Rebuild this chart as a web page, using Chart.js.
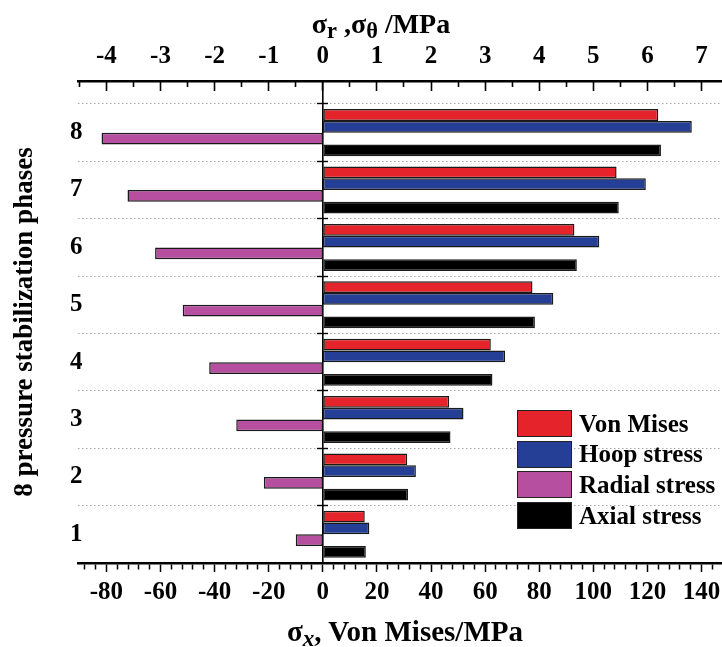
<!DOCTYPE html>
<html>
<head>
<meta charset="utf-8">
<title>8 pressure stabilization phases</title>
<script src="https://cdn.jsdelivr.net/npm/chart.js@4.4.1/dist/chart.umd.min.js"></script>
<style>
    html, body { margin: 0; padding: 0; background: #fff; overflow: hidden; }
    #wrap { position: relative; width: 722px; height: 647px; overflow: hidden; }
    #chart { position: absolute; left: 0; top: 0; }
    .axis-title {
        position: absolute;
        font-family: "Liberation Serif", "Times New Roman", serif;
        font-weight: bold;
        line-height: 1;
        white-space: nowrap;
        color: #000;
        transform: translateX(-50%);
    }
    .axis-title .sub { font-size: 0.8em; vertical-align: -0.22em; line-height: 0; }
    #legend { position: absolute; left: 517px; top: 410px; }
    .legend-row { position: absolute; left: 0; display: flex; align-items: center; height: 27px; }
    .legend-box { width: 55px; height: 27px; box-sizing: border-box; border: 1.5px solid #222; }
    .legend-text {
        margin-left: 7px;
        font-family: "Liberation Serif", "Times New Roman", serif;
        font-weight: bold;
        font-size: 25px;
        white-space: nowrap;
        color: #000;
    }
</style>
</head>
<body>
<div id="wrap">
    <canvas id="chart" width="760" height="647"></canvas>
    <div class="axis-title" id="top-title" style="left:381px; top:10px; font-size:28px;">σ<span class="sub">r</span> ,σ<span class="sub">θ</span> /MPa</div>
    <div class="axis-title" id="bottom-title" style="left:405px; top:617px; font-size:29px;">σ<span class="sub"><i>x</i></span>, Von Mises/MPa</div>
    <div id="legend"></div>
</div>
<script>
// データ（ピクセル位置から読み取った値）
const phases = [1, 2, 3, 4, 5, 6, 7, 8];
// 下軸 (MPa)
const vonMises = [15.5, 31.2, 46.7, 62.1, 77.5, 93.0, 108.6, 124.0];
const axialStress = [15.9, 31.5, 47.2, 62.7, 78.4, 93.9, 109.4, 125.0];
// 上軸 σr, σθ (MPa)
const hoopStress = [0.86, 1.72, 2.60, 3.37, 4.26, 5.11, 5.97, 6.82];
const radialStress = [-0.50, -1.09, -1.60, -2.10, -2.59, -3.10, -3.61, -4.09];

const seriesNames = ['Von Mises', 'Hoop stress', 'Radial stress', 'Axial stress'];
const seriesColors = ['#e5232a', '#253f96', '#b64f9f', '#000000'];

// 軸の範囲
const xMin = -90.5;
const xMax = 152;
const topRatio = 20;      // 下軸 / 上軸
const yMin = 0.5;
const yMax = 8.9;
const boundaries = [1.5, 2.5, 3.5, 4.5, 5.5, 6.5, 7.5, 8.5];

const serif = "'Liberation Serif', 'Times New Roman', serif";
function boldFont(size) {
    return { family: serif, size: size, weight: 'bold' };
}

function toPoints(values) {
    return phases.map((p, i) => ({ x: values[i], y: p }));
}

function makeDataset(i, values, xAxisID) {
    return {
        label: seriesNames[i],
        data: toPoints(values),
        xAxisID: xAxisID,
        yAxisID: 'y',
        backgroundColor: seriesColors[i],
        borderColor: '#1a1a1a',
        borderWidth: 1.5,
        borderSkipped: false
    };
}

function isMultiple(v, step) {
    return Math.abs(v / step - Math.round(v / step)) < 1e-6;
}

function boundaryTicks(scale) {
    scale.ticks = boundaries.map(v => ({ value: v }));
}

// x=0 に置く縦軸（グリッド・目盛り用）
function zeroAxis(grid, border) {
    return {
        type: 'linear',
        axis: 'y',
        position: { x: 0 },
        min: yMin,
        max: yMax,
        offset: false,
        afterBuildTicks: boundaryTicks,
        ticks: { display: false },
        grid: Object.assign({ offset: false }, grid),
        border: border
    };
}

const ctx = document.getElementById('chart');

new Chart(ctx, {
    type: 'bar',
    data: {
        datasets: [
            makeDataset(0, vonMises, 'x'),
            makeDataset(1, hoopStress, 'xTop'),
            makeDataset(2, radialStress, 'xTop'),
            makeDataset(3, axialStress, 'x')
        ]
    },
    options: {
        indexAxis: 'y',
        responsive: false,
        animation: false,
        devicePixelRatio: 1,
        categoryPercentage: 0.82,
        barPercentage: 1.0,
        layout: { padding: { left: 0, top: 0, right: 26, bottom: 0 } },
        plugins: {
            legend: { display: false },
            tooltip: { enabled: false }
        },
        scales: {
            x: {
                type: 'linear',
                position: 'bottom',
                min: xMin,
                max: xMax,
                ticks: {
                    stepSize: 4,
                    autoSkip: false,
                    includeBounds: false,
                    maxRotation: 0,
                    color: '#000',
                    font: boldFont(25),
                    padding: 6,
                    callback: v => (isMultiple(v, 20) ? String(Math.round(v)) : '')
                },
                grid: {
                    drawOnChartArea: false,
                    drawTicks: true,
                    tickLength: 9,
                    tickColor: '#000',
                    tickWidth: 1.5,
                    // 副目盛りは短く
                    tickBorderDash: c => (isMultiple(c.tick.value, 20) ? [] : [5, 100])
                },
                border: { display: true, color: '#000', width: 2.5 },
                afterFit: s => { s.height = 647 - 563; }
            },
            xTop: {
                type: 'linear',
                position: 'top',
                min: xMin / topRatio,
                max: xMax / topRatio,
                ticks: {
                    stepSize: 1,
                    autoSkip: false,
                    includeBounds: false,
                    maxRotation: 0,
                    color: '#000',
                    font: boldFont(25),
                    padding: 9.5
                },
                grid: { display: false, drawOnChartArea: false, drawTicks: false },
                border: { display: true, color: '#000', width: 2.5 },
                afterFit: s => { s.height = 81; }
            },
            // 上軸の内向き目盛り（上端に置く）
            xTopTicks: {
                type: 'linear',
                axis: 'x',
                position: { y: yMax },
                min: xMin / topRatio,
                max: xMax / topRatio,
                ticks: { display: false, stepSize: 0.5, includeBounds: false },
                grid: {
                    drawOnChartArea: false,
                    drawTicks: true,
                    tickLength: 10,
                    tickColor: '#000',
                    tickWidth: 1.6,
                    tickBorderDash: c => (isMultiple(c.tick.value, 1) ? [] : [6, 100])
                },
                border: { display: false }
            },
            y: {
                type: 'linear',
                position: 'left',
                min: yMin,
                max: yMax,
                offset: false,
                afterBuildTicks: s => { s.ticks = phases.map(v => ({ value: v })); },
                ticks: { color: '#000', font: boldFont(25), mirror: true, padding: -8 },
                grid: { display: false, drawTicks: false, offset: false },
                border: { display: false },
                title: {
                    display: true,
                    text: '8 pressure stabilization phases',
                    color: '#000',
                    font: boldFont(27),
                    padding: { top: 9, bottom: 0 }
                },
                afterFit: s => { s.width = 78; }
            },
            // 点線のグリッド
            yGrid: zeroAxis(
                { color: '#a8a8a8', lineWidth: 1, drawTicks: false },
                { display: false, dash: [1.5, 2.5] }
            ),
            // x=0 の縦線と目盛り
            yZero: zeroAxis(
                { drawOnChartArea: false, drawTicks: true, tickLength: 5, tickColor: '#000', tickWidth: 1.4 },
                { display: true, color: '#000', width: 1.6 }
            ),
            yZeroR: zeroAxis(
                { drawOnChartArea: false, drawTicks: true, tickLength: -5, tickColor: '#000', tickWidth: 1.4 },
                { display: false }
            )
        }
    }
});

// 凡例
const legend = document.getElementById('legend');
seriesNames.forEach((name, i) => {
    const row = document.createElement('div');
    row.className = 'legend-row';
    row.style.top = (i * 30.7) + 'px';
    const box = document.createElement('div');
    box.className = 'legend-box';
    box.style.background = seriesColors[i];
    const text = document.createElement('span');
    text.className = 'legend-text';
    text.textContent = name;
    row.appendChild(box);
    row.appendChild(text);
    legend.appendChild(row);
});
</script>
</body>
</html>
